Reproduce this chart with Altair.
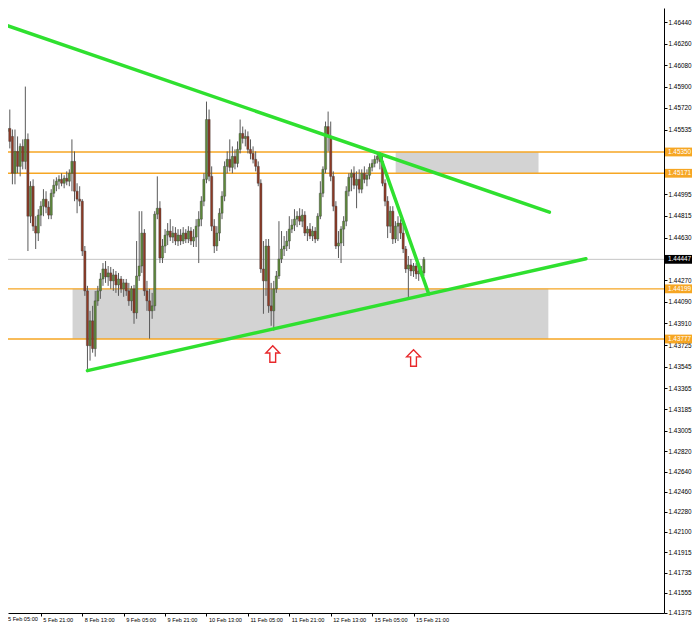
import altair as alt
import pandas as pd

# ---------------- data (H1 candles, bar index 0 = 5 Feb 07:00) ----------------
opens = [1.45623, 1.45523, 1.45548, 1.45481, 1.45171, 1.45355, 1.45229, 1.45397, 1.45271, 1.45456,
         1.44810, 1.45062, 1.44726, 1.44668, 1.44819, 1.44894, 1.44953, 1.44886, 1.44819, 1.45003,
         1.45070, 1.45104, 1.45120, 1.45087, 1.45129, 1.45104, 1.45171, 1.45271, 1.45020, 1.44953,
         1.44936, 1.44517, 1.44182, 1.43721, 1.43930, 1.43696, 1.44098, 1.44182, 1.44282, 1.44366,
         1.44299, 1.44333, 1.44266, 1.44316, 1.44232, 1.44282, 1.44199, 1.44249, 1.44182, 1.44098,
         1.44199, 1.43997, 1.44307, 1.44391, 1.44668, 1.44182, 1.44098, 1.44014, 1.44056, 1.44827,
         1.44877, 1.44458, 1.44559, 1.44651, 1.44685, 1.44634, 1.44668, 1.44601, 1.44651, 1.44601,
         1.44668, 1.44618, 1.44685, 1.44601, 1.44634, 1.44726, 1.44785, 1.44936, 1.45120, 1.45623,
         1.45145, 1.44726, 1.44559, 1.44668, 1.44835, 1.44978, 1.45229, 1.45288, 1.45221, 1.45313,
         1.45254, 1.45372, 1.45506, 1.45464, 1.45481, 1.45372, 1.45338, 1.45288, 1.45229, 1.45087,
         1.44366, 1.44266, 1.44559, 1.44056, 1.44014, 1.44199, 1.44307, 1.44450, 1.44534, 1.44559,
         1.44601, 1.44701, 1.44735, 1.44785, 1.44810, 1.44768, 1.44819, 1.44668, 1.44701, 1.44643,
         1.44685, 1.44618, 1.44810, 1.45003, 1.45204, 1.45564, 1.45481, 1.45145, 1.44894, 1.44559,
         1.44584, 1.44701, 1.44768, 1.45020, 1.45137, 1.45171, 1.45070, 1.45120, 1.45037, 1.45171,
         1.45120, 1.45154, 1.45221, 1.45254, 1.45288, 1.45313, 1.45271, 1.45087, 1.44936, 1.44726,
         1.44852, 1.44618, 1.44726, 1.44752, 1.44668, 1.44534, 1.44366, 1.44400, 1.44349, 1.44391,
         1.44324, 1.44349, 1.44333]
highs = [1.45690, 1.45590, 1.45707, 1.45539, 1.45539, 1.45481, 1.45422, 1.45456, 1.45900, 1.45506,
         1.45104, 1.45120, 1.44810, 1.44869, 1.44936, 1.45037, 1.45020, 1.44936, 1.45037, 1.45120,
         1.45137, 1.45154, 1.45171, 1.45154, 1.45187, 1.45204, 1.45456, 1.45355, 1.45087, 1.45062,
         1.44953, 1.44559, 1.44224, 1.44014, 1.44056, 1.44182, 1.44224, 1.44333, 1.44416, 1.44433,
         1.44391, 1.44383, 1.44366, 1.44349, 1.44333, 1.44307, 1.44282, 1.44282, 1.44249, 1.44224,
         1.44232, 1.44601, 1.44852, 1.44852, 1.44701, 1.44266, 1.44199, 1.44165, 1.44852, 1.45145,
         1.44936, 1.44618, 1.44701, 1.44752, 1.44785, 1.44726, 1.44718, 1.44701, 1.44701, 1.44718,
         1.44701, 1.44726, 1.44718, 1.44701, 1.44785, 1.44852, 1.44978, 1.45171, 1.45774, 1.45707,
         1.45229, 1.44785, 1.44726, 1.44877, 1.45020, 1.45271, 1.45355, 1.45456, 1.45397, 1.45372,
         1.45439, 1.45623, 1.45564, 1.45539, 1.45523, 1.45456, 1.45397, 1.45355, 1.45271, 1.45120,
         1.44601, 1.44618, 1.44618, 1.44249, 1.44266, 1.44349, 1.44768, 1.44685, 1.44643, 1.44685,
         1.44810, 1.44785, 1.44869, 1.44852, 1.44877, 1.44869, 1.44852, 1.44726, 1.44752, 1.44726,
         1.44718, 1.44835, 1.45104, 1.45229, 1.45606, 1.45690, 1.45606, 1.45187, 1.44936, 1.44685,
         1.44726, 1.44810, 1.45062, 1.45171, 1.45204, 1.45229, 1.45187, 1.45204, 1.45204, 1.45229,
         1.45204, 1.45254, 1.45288, 1.45321, 1.45338, 1.45347, 1.45330, 1.45120, 1.44978, 1.44894,
         1.44894, 1.44768, 1.44810, 1.44785, 1.44752, 1.44559, 1.44475, 1.44450, 1.44416, 1.44416,
         1.44391, 1.44391, 1.44467]
lows = [1.45506, 1.45481, 1.45380, 1.45078, 1.45078, 1.45171, 1.45145, 1.45204, 1.45204, 1.44517,
        1.44752, 1.44685, 1.44534, 1.44601, 1.44726, 1.44810, 1.44835, 1.44785, 1.44785, 1.44970,
        1.45020, 1.45037, 1.45062, 1.45045, 1.45070, 1.45062, 1.45020, 1.44936, 1.44835, 1.44894,
        1.44475, 1.44140, 1.43503, 1.43595, 1.43662, 1.43629, 1.44056, 1.44115, 1.44224, 1.44249,
        1.44224, 1.44199, 1.44182, 1.44165, 1.44140, 1.44165, 1.44132, 1.44140, 1.44056, 1.44014,
        1.43905, 1.43947, 1.44266, 1.44333, 1.44140, 1.44014, 1.43780, 1.43947, 1.44014, 1.44785,
        1.44416, 1.44416, 1.44500, 1.44567, 1.44601, 1.44584, 1.44567, 1.44559, 1.44567, 1.44576,
        1.44584, 1.44584, 1.44567, 1.44551, 1.44551, 1.44416, 1.44726, 1.44894, 1.45087, 1.45104,
        1.44685, 1.44500, 1.44517, 1.44601, 1.44785, 1.44936, 1.45171, 1.45187, 1.45171, 1.45204,
        1.45221, 1.45338, 1.45422, 1.45397, 1.45338, 1.45288, 1.45254, 1.45187, 1.45062, 1.44333,
        1.43989, 1.44140, 1.43997, 1.43888, 1.43847, 1.44165, 1.44282, 1.44416, 1.44475, 1.44517,
        1.44534, 1.44668, 1.44685, 1.44718, 1.44735, 1.44718, 1.44643, 1.44601, 1.44618, 1.44601,
        1.44584, 1.44601, 1.44785, 1.44970, 1.45171, 1.45355, 1.45104, 1.44852, 1.44534, 1.44458,
        1.44416, 1.44559, 1.44726, 1.44978, 1.45020, 1.45037, 1.44877, 1.45003, 1.45003, 1.45087,
        1.45062, 1.45120, 1.45187, 1.45221, 1.45254, 1.45204, 1.45062, 1.44894, 1.44626, 1.44668,
        1.44576, 1.44584, 1.44601, 1.44618, 1.44500, 1.44333, 1.44123, 1.44307, 1.44299, 1.44282,
        1.44266, 1.44299, 1.44307]
closes = [1.45539, 1.45548, 1.45439, 1.45171, 1.45355, 1.45229, 1.45397, 1.45271, 1.45456, 1.44810,
          1.45062, 1.44726, 1.44668, 1.44819, 1.44894, 1.44953, 1.44886, 1.44819, 1.45003, 1.45070,
          1.45104, 1.45120, 1.45087, 1.45129, 1.45104, 1.45171, 1.45271, 1.45020, 1.44953, 1.44936,
          1.44517, 1.44182, 1.43721, 1.43930, 1.43696, 1.44098, 1.44182, 1.44282, 1.44366, 1.44299,
          1.44333, 1.44266, 1.44316, 1.44232, 1.44282, 1.44199, 1.44249, 1.44182, 1.44098, 1.44199,
          1.43997, 1.44307, 1.44391, 1.44668, 1.44182, 1.44098, 1.44014, 1.44056, 1.44827, 1.44877,
          1.44458, 1.44559, 1.44651, 1.44685, 1.44634, 1.44668, 1.44601, 1.44651, 1.44601, 1.44668,
          1.44618, 1.44685, 1.44601, 1.44634, 1.44726, 1.44785, 1.44936, 1.45120, 1.45623, 1.45145,
          1.44726, 1.44559, 1.44668, 1.44835, 1.44978, 1.45229, 1.45288, 1.45221, 1.45313, 1.45254,
          1.45372, 1.45506, 1.45464, 1.45481, 1.45372, 1.45338, 1.45288, 1.45229, 1.45087, 1.44366,
          1.44266, 1.44559, 1.44056, 1.44014, 1.44199, 1.44307, 1.44450, 1.44534, 1.44559, 1.44601,
          1.44701, 1.44735, 1.44785, 1.44810, 1.44768, 1.44819, 1.44668, 1.44701, 1.44643, 1.44685,
          1.44618, 1.44810, 1.45003, 1.45204, 1.45564, 1.45481, 1.45145, 1.44894, 1.44559, 1.44584,
          1.44701, 1.44768, 1.45020, 1.45137, 1.45171, 1.45070, 1.45120, 1.45037, 1.45171, 1.45120,
          1.45154, 1.45221, 1.45254, 1.45288, 1.45313, 1.45271, 1.45087, 1.44936, 1.44726, 1.44852,
          1.44618, 1.44726, 1.44752, 1.44668, 1.44534, 1.44366, 1.44400, 1.44349, 1.44391, 1.44324,
          1.44349, 1.44333, 1.44447]
bar_index = list(range(len(opens)))

# time axis labels (every 16 bars)
time_labels = ["5 Feb 21:00", "8 Feb 13:00", "9 Feb 05:00", "9 Feb 21:00", "10 Feb 13:00",
               "11 Feb 05:00", "11 Feb 21:00", "12 Feb 13:00", "15 Feb 05:00", "15 Feb 21:00"]
time_label_bars = [14, 30, 46, 62, 78, 94, 110, 126, 142, 158]
first_label = ["5 Feb 05:00"]

# price axis labels
price_ticks = [1.46440, 1.46260, 1.46080, 1.45900, 1.45720, 1.45535, 1.44995, 1.44815,
               1.44630, 1.44270, 1.44090, 1.43910, 1.43725, 1.43545, 1.43365, 1.43185, 1.43005,
               1.42820, 1.42640, 1.42460, 1.42280, 1.42100, 1.41915, 1.41735, 1.41555, 1.41375]

# horizontal levels
level_prices = [1.45350, 1.45171, 1.44199, 1.43777]
bid_price = [1.44447]

# zones (rectangles)
zone_start = [26.25, 151.1]
zone_end = [210.1, 206.3]
zone_top = [1.44199, 1.45350]
zone_bottom = [1.43777, 1.45171]

# trend lines
trend_id = ["down", "down", "up", "up", "steep", "steep"]
trend_bar = [0.21, 210.5, 32.0, 224.6, 144.7, 163.9]
trend_price = [1.46418, 1.44844, 1.43511, 1.44452, 1.45337, 1.44155]

# arrows
arrow_bar = [103.6, 158.0]
arrow_price = [1.43651, 1.43618]

# price tags on the right
tag_price = [1.45350, 1.45171, 1.44199, 1.43777, 1.44447]
tag_fill = ["#F6A623", "#F6A623", "#F6A623", "#F6A623", "#000000"]

# ---------------- chart ----------------
W, H = 656, 605
ORANGE = "#F6A623"
GREEN = "#2FE02F"
BULL = "#5E8A3A"
BEAR = "#8E3A25"
FONT = "Liberation Sans"

# piecewise scales: true bar/price spacing over the drawn area, empty margins condensed
xs = alt.Scale(domain=[3.27, 226.0, 257.6], range=[0, 581.5, W], nice=False, zero=False)
ys = alt.Scale(domain=[1.41372, 1.43000, 1.46561], range=[H, 423.4, 0], nice=False, zero=False)

labels_js = "[" + ",".join("'%s'" % s for s in time_labels) + "]"
vals_js = "[" + ",".join(str(v) for v in time_label_bars) + "]"
X_AX = alt.Axis(values=time_label_bars, labelExpr=f"{labels_js}[indexof({vals_js}, datum.value)]",
                labelAlign="left", labelBaseline="top", labelOffset=2, labelPadding=1, tickSize=3,
                labelFontSize=5.6, labelFont=FONT, labelColor="#000", domainColor="#000",
                tickColor="#000", grid=False, title=None, labelOverlap=False, labelFlush=False)
Y_AX = alt.Axis(orient="right", values=price_ticks, format=".5f", tickSize=3, labelPadding=1,
                labelFontSize=6.4, labelFont=FONT, labelColor="#000", domainColor="#000",
                tickColor="#000", grid=False, title=None, labelOverlap=False, labelFlush=False)


def X(f):
    return alt.X(f, type="quantitative", scale=xs, axis=X_AX)


def Y(f):
    return alt.Y(f, type="quantitative", scale=ys, axis=Y_AX)


candles = pd.DataFrame({"k": bar_index, "open": opens, "high": highs, "low": lows, "close": closes})
zones = pd.DataFrame({"x1": zone_start, "x2": zone_end, "top": zone_top, "bot": zone_bottom})
levels = pd.DataFrame({"p": level_prices})
bid = pd.DataFrame({"p": bid_price})
trend = pd.DataFrame({"id": trend_id, "k": trend_bar, "p": trend_price})
arrows = pd.DataFrame({"k": arrow_bar, "p": arrow_price})
tags = pd.DataFrame({"p": tag_price, "fill": tag_fill,
                     "txt": ["%.5f" % v for v in tag_price]})
first = pd.DataFrame({"t": first_label})

zone_layer = alt.Chart(zones).mark_rect(color="#D3D3D3", clip=True).encode(
    x=X("x1"), x2="x2", y=Y("top"), y2="bot")
level_layer = alt.Chart(levels).mark_rule(color=ORANGE, strokeWidth=1.4).encode(y=Y("p"))
bid_layer = alt.Chart(bid).mark_rule(color="#C6C6C6", strokeWidth=1).encode(y=Y("p"))
wick_layer = alt.Chart(candles).mark_rule(color="#5A5A5A", strokeWidth=1).encode(
    x=X("k"), y=Y("low"), y2="high")
body_layer = alt.Chart(candles).mark_bar(size=2.2, stroke="#3C3C3C", strokeWidth=0.4).encode(
    x=X("k"), y=Y("open"), y2="close",
    color=alt.condition("datum.close >= datum.open", alt.value(BULL), alt.value(BEAR)))
trend_layer = alt.Chart(trend).mark_line(color=GREEN, strokeWidth=3.5, clip=True,
                                         strokeCap="round").encode(
    x=X("k"), y=Y("p"), detail="id")
ARROW = "M0,-1.2L1,-0.15L0.42,-0.15L0.42,1.2L-0.42,1.2L-0.42,-0.15L-1,-0.15Z"
arrow_layer = alt.Chart(arrows).mark_point(shape=ARROW, size=190, filled=True, fill="#FFFFFF",
                                           stroke="#E8282B", strokeWidth=1.4, opacity=1).encode(
    x=X("k"), y=Y("p"))
tag_box = alt.Chart(tags).transform_calculate(
    t="datum.p + 0.00037", b="datum.p - 0.00037").mark_rect().encode(
    x=alt.value(W + 1), x2=alt.value(W + 28), y=Y("t:Q"), y2="b:Q",
    color=alt.Color("fill:N", scale=None))
tag_text = alt.Chart(tags).mark_text(align="left", baseline="middle", fontSize=6.4, font=FONT,
                                     color="#FFFFFF").encode(
    x=alt.value(W + 4), y=Y("p"), text="txt:N")
first_text = alt.Chart(first).mark_text(align="left", baseline="top", fontSize=5.6, font=FONT,
                                        color="#000").encode(
    x=alt.value(0), y=alt.value(H + 4), text="t:N")

chart = alt.layer(zone_layer, level_layer, bid_layer, wick_layer, body_layer, trend_layer,
                  arrow_layer, tag_box, tag_text, first_text).properties(
    width=W, height=H, background="#FFFFFF",
    autosize=alt.AutoSizeParams(type="none"),
    padding={"left": 0, "top": 0, "right": 28, "bottom": 12}
).configure_view(strokeWidth=0)

chart.save("out.html", embed_options={"renderer": "svg", "actions": False})
